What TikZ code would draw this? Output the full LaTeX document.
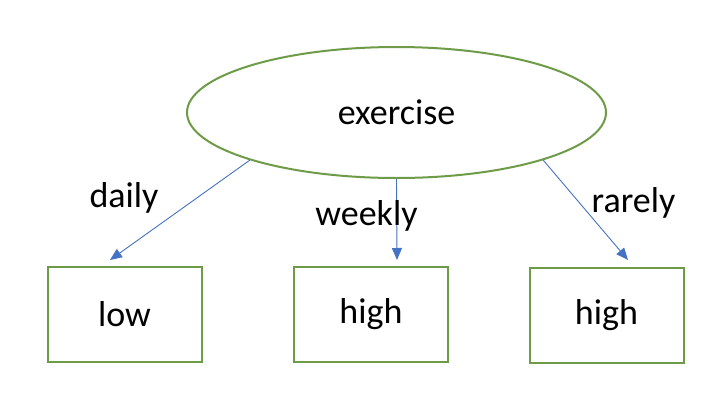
\documentclass[tikz,border=0pt]{standalone}
\usepackage{fontspec}
\setmainfont{Carlito}
\usetikzlibrary{shapes.geometric,arrows.meta}
\definecolor{leafgreen}{HTML}{6E9B47}
\definecolor{linkblue}{HTML}{4472C4}
\begin{document}
\begin{tikzpicture}[
	x=1pt,
	y=-1pt,
	font=\fontsize{36}{43}\selectfont,
	oval/.style={
		draw=leafgreen,
		line width=2pt,
		ellipse,
		inner sep=0pt,
		minimum width=419pt,
		minimum height=131pt
	},
	box/.style={
		draw=leafgreen,
		line width=2pt,
		rectangle,
		inner sep=0pt,
		minimum width=154pt,
		minimum height=95pt
	},
	link/.style={
		draw=linkblue,
		line width=0.9pt,
		-{Triangle[length=12pt,width=10pt]}
	},
	lbl/.style={
		anchor=base,
		inner sep=0pt
	}
]
\useasboundingbox (0,0) rectangle (718,402);

\node[oval] (exercise) at (396.5,112.5) {exercise};

\node[box] (daily_leaf)  at (124.5,314.5) {low};
\node[box] (weekly_leaf) at (371.0,314.5) {high};
\node[box] (rarely_leaf) at (606.5,315.0) {high};

\coordinate (daily_tip)  at (110,260);
\coordinate (weekly_tip) at (397,260);
\coordinate (rarely_tip) at (628,260);

\draw[link] (exercise.198)   -- (daily_tip);
\draw[link] (exercise.south) -- (weekly_tip);
\draw[link] (exercise.342)   -- (rarely_tip);

\node[lbl] (daily_lbl)  at (124.0,207) {daily};
\node[lbl] (weekly_lbl) at (366.5,225) {weekly};
\node[lbl] (rarely_lbl) at (633.5,212) {rarely};

\end{tikzpicture}
\end{document}
